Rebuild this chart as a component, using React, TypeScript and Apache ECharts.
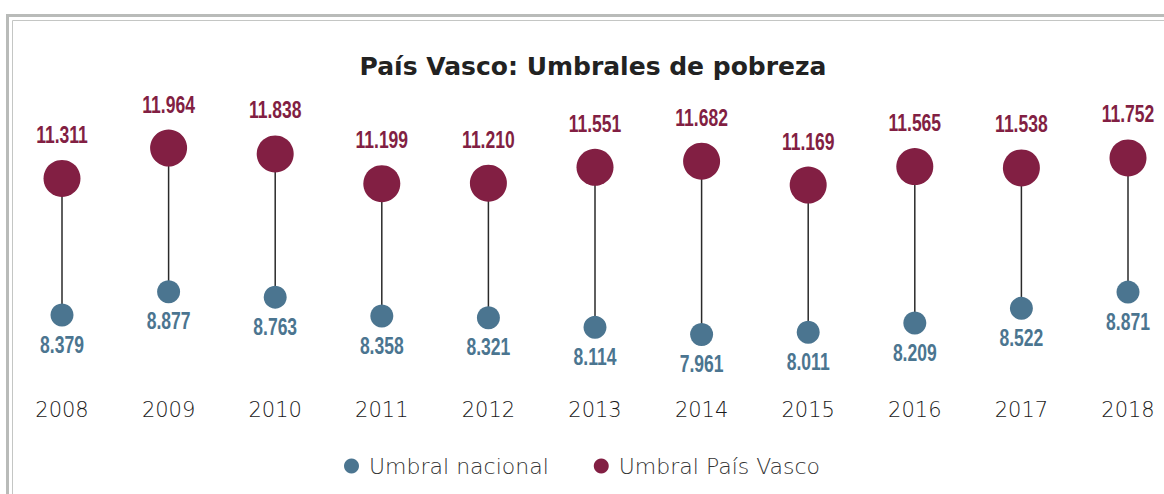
import React, { useEffect, useRef } from "react";
import * as echarts from "echarts";

const years = ["2008", "2009", "2010", "2011", "2012", "2013", "2014", "2015", "2016", "2017", "2018"];
const umbralNacional = [8379, 8877, 8763, 8358, 8321, 8114, 7961, 8011, 8209, 8522, 8871];
const umbralPaisVasco = [11311, 11964, 11838, 11199, 11210, 11551, 11682, 11169, 11565, 11538, 11752];

const BLUE = "#4b7590";
const RED = "#821f43";
const NUM_FONT = "'Liberation Sans', Arial, sans-serif";
const LIGHT_FONT = "'DejaVu Sans', sans-serif";

const fmt = (v: number) => {
  const s = String(Math.round(v));
  return s.replace(/\B(?=(\d{3})+(?!\d))/g, ".");
};

export default function App() {
  const ref = useRef<HTMLDivElement>(null);
  useEffect(() => {
    if (!ref.current) return;
    const chart = echarts.init(ref.current, null, { renderer: "svg" });
    const lineData = years.map((_, i) => [i, umbralNacional[i], umbralPaisVasco[i]]);
    const makeLabelSeries = (name: string, values: number[], color: string, dy: number) => ({
      type: "custom",
      name,
      silent: true,
      z: 4,
      encode: { x: 0, y: 1 },
      data: values.map((v, i) => [i, v]),
      renderItem: (params: any, api: any) => {
        const p = api.coord([api.value(0), api.value(1)]);
        return {
          type: "text",
          x: p[0],
          y: p[1] + dy,
          scaleX: 0.73,
          style: {
            text: fmt(api.value(1)),
            fill: color,
            fontFamily: NUM_FONT,
            fontWeight: "bold",
            fontSize: 24,
            align: "center",
            verticalAlign: "middle",
          },
        };
      },
    });
    chart.setOption({
      animation: false,
      backgroundColor: "#ffffff",
      title: {
        text: "País Vasco: Umbrales de pobreza",
        left: 593,
        textAlign: "center",
        top: 54,
        padding: 0,
        textStyle: { fontFamily: LIGHT_FONT, fontWeight: "bold", fontSize: 25, color: "#222222" },
      },
      legend: {
        left: 344,
        top: 455,
        padding: 0,
        icon: "circle",
        itemWidth: 15,
        itemHeight: 15,
        itemGap: 45,
        data: ["Umbral nacional", "Umbral País Vasco"],
        textStyle: { fontFamily: LIGHT_FONT, fontWeight: 200, fontSize: 22, color: "#333333", padding: [0, 0, 0, 5] },
      },
      graphic: [
        { type: "rect", shape: { x: 7.5, y: 15.5, width: 1200, height: 520 }, style: { fill: "none", stroke: "#b9bbb9", lineWidth: 3 }, silent: true },
        { type: "rect", shape: { x: 12.5, y: 20.5, width: 1200, height: 520 }, style: { fill: "none", stroke: "#c4c6c4", lineWidth: 1 }, silent: true },
      ],
      grid: { left: 8.7, width: 1172.6, top: 141.7, height: 200.3, outerBoundsMode: "none", containLabel: false },
      xAxis: {
        type: "category",
        data: years,
        boundaryGap: true,
        axisLine: { show: false },
        axisTick: { show: false },
        splitLine: { show: false },
        axisLabel: { margin: 57, fontFamily: LIGHT_FONT, fontWeight: 200, fontSize: 21, color: "#1a1a1a" },
      },
      yAxis: {
        type: "value",
        min: 7800,
        max: 12100,
        show: false,
        splitLine: { show: false },
      },
      series: [
        {
          type: "custom",
          name: "lines",
          silent: true,
          z: 1,
          encode: { x: 0, y: [1, 2] },
          data: lineData,
          renderItem: (params: any, api: any) => {
            const x = api.value(0);
            const p1 = api.coord([x, api.value(1)]);
            const p2 = api.coord([x, api.value(2)]);
            return {
              type: "line",
              shape: { x1: p1[0], y1: p1[1], x2: p2[0], y2: p2[1] },
              style: { stroke: "#2a2a2a", lineWidth: 1.5 },
            };
          },
        },
        {
          type: "scatter",
          name: "Umbral nacional",
          z: 3,
          symbolSize: 23,
          itemStyle: { color: BLUE, opacity: 1 },
          data: umbralNacional,
        },
        {
          type: "scatter",
          name: "Umbral País Vasco",
          z: 3,
          symbolSize: 37,
          itemStyle: { color: RED, opacity: 1 },
          data: umbralPaisVasco,
        },
        makeLabelSeries("labels-nacional", umbralNacional, BLUE, 29),
        makeLabelSeries("labels-pv", umbralPaisVasco, RED, -44),
      ],
    });
    return () => chart.dispose();
  }, []);
  return <div ref={ref} style={{ position: "fixed", left: 0, top: 0, width: 1164, height: 494 }} />;
}
